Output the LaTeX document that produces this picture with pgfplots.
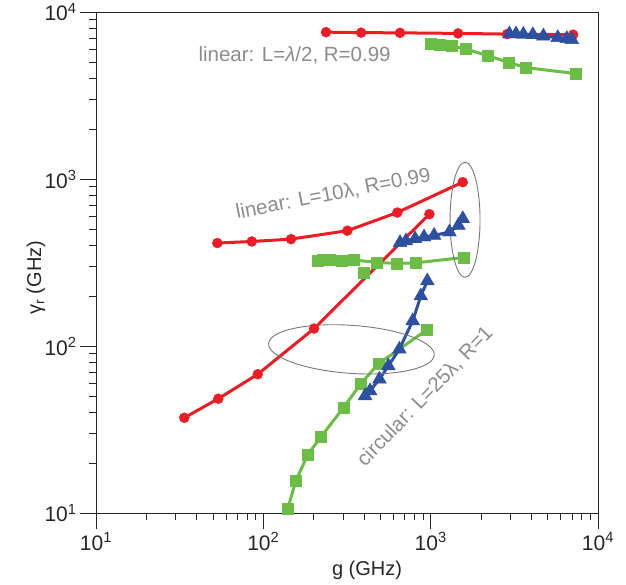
\documentclass[border=0pt]{standalone}
\usepackage{fontspec}
\setmainfont{Liberation Sans}
\usepackage{pgfplots}
\pgfplotsset{compat=1.18}

\definecolor{cred}{RGB}{237,28,36}
\definecolor{cgreen}{RGB}{108,189,69}
\definecolor{cblue}{RGB}{46,80,160}
\definecolor{cnote}{RGB}{140,140,140}
\definecolor{cring}{RGB}{120,120,120}

\begin{document}
\begin{tikzpicture}
\begin{axis}[
  scale only axis, width=502pt, height=501pt,
  xmode=log, ymode=log,
  xmin=10, xmax=10000, ymin=10, ymax=10000,
  axis line style={line width=0.9pt, black!85},
  tick align=outside, xtick pos=left, ytick pos=left,
  major tick length=16pt, minor tick length=7pt,
  every tick/.style={line width=0.8pt, black!85},
  xtick={10,100,1000,10000},
  ytick={10,100,1000,10000},
  xticklabels={10\textsuperscript{1},10\textsuperscript{2},10\textsuperscript{3},10\textsuperscript{4}},
  yticklabels={10\textsuperscript{1},10\textsuperscript{2},10\textsuperscript{3},10\textsuperscript{4}},
  ticklabel style={font=\fontsize{21}{21}\selectfont, text=black!85},
  xlabel={g (GHz)}, ylabel={γ\textsubscript{r} (GHz)},
  every axis x label/.style={at={(axis description cs:0.54,0)}, yshift=-57pt, anchor=center,
    font=\fontsize{20}{20}\selectfont, text=black!85},
  every axis y label/.style={at={(axis description cs:0,0.47)}, xshift=-60pt, rotate=90, anchor=center,
    font=\fontsize{20}{20}\selectfont, text=black!85},
  clip=false,
  every axis plot/.append style={line width=3pt, mark options={solid, line width=0.4pt}},
]

% linear, L = lambda/2, R = 0.99
\addplot[cred, mark=*, mark size=5pt] coordinates {
  (237,7600) (384,7550) (656,7530) (1458,7470) (2862,7400) (7100,7340)};
\addplot[cgreen, mark=square*, mark size=5.5pt] coordinates {
  (1005,6475) (1137,6385) (1343,6270) (1629,6015) (2205,5480) (2944,5000) (3718,4660) (7393,4290)};
\addplot[cblue, mark=triangle*, mark size=8pt] coordinates {
  (2953,7420) (3237,7420) (3581,7380) (4077,7330) (4718,7200) (5750,7050) (6506,6950) (6970,6860)};

% linear, L = 10 lambda, R = 0.99
\addplot[cred, mark=*, mark size=5pt] coordinates {
  (53.1,415) (85.3,424) (146.4,438) (318,492) (632,632) (1555,961)};
\addplot[cgreen, mark=square*, mark size=5.5pt] coordinates {
  (210,325) (226,328) (248,328) (294,325) (349,328) (476,318) (627,313) (818,316) (1569,340)};
\addplot[cgreen, only marks, mark=square*, mark size=5.5pt] coordinates {(400,277)};
\addplot[cblue, mark=triangle*, mark size=8pt] coordinates {
  (656,417) (712,427) (807,440) (913,451) (1048,461) (1294,483) (1464,529) (1555,580)};

% circular, L = 25 lambda, R = 1
\addplot[cred, mark=*, mark size=5pt] coordinates {
  (33.7,37.3) (53.8,48.5) (92.6,68.0) (201,127.6) (982,618)};
\addplot[cgreen, mark=square*, mark size=5.5pt] coordinates {
  (139.9,10.67) (156.9,15.75) (184.3,22.4) (220.3,28.6) (300.8,42.8) (382,59.6) (487,78.5) (947.6,125.3)};
\addplot[cblue, mark=triangle*, mark size=8pt] coordinates {
  (405.5,50.5) (434,54.1) (494,63.5) (558.6,76.3) (650,96.0) (781,141.9) (873,200) (955,246)};

% group outlines
\draw[cring, line width=0.9pt] (axis cs:1605,572) ellipse [x radius=15pt, y radius=57.5pt];
\draw[cring, line width=0.9pt] (axis cs:336,95.8) ellipse [x radius=83pt, y radius=24pt, rotate=-4];

% group captions
\node[text=cnote, font=\fontsize{20.5}{20.5}\selectfont, anchor=center, inner sep=0pt]
  at (axis cs:153.7,5540) {linear: L=\textit{λ}/2, R=0.99};
\node[text=cnote, font=\fontsize{20.5}{20.5}\selectfont, anchor=center, rotate=11, inner sep=0pt]
  at (axis cs:262,815) {linear: L=10λ, R=0.99};
\node[text=cnote, font=\fontsize{20.5}{20.5}\selectfont, anchor=center, rotate=46, inner sep=0pt]
  at (axis cs:926,50) {circular: L=25λ, R=1};
\end{axis}
\path ([shift={(-96pt,-71pt)}]current axis.south west) rectangle ++(626pt,584pt);
\end{tikzpicture}
\end{document}
